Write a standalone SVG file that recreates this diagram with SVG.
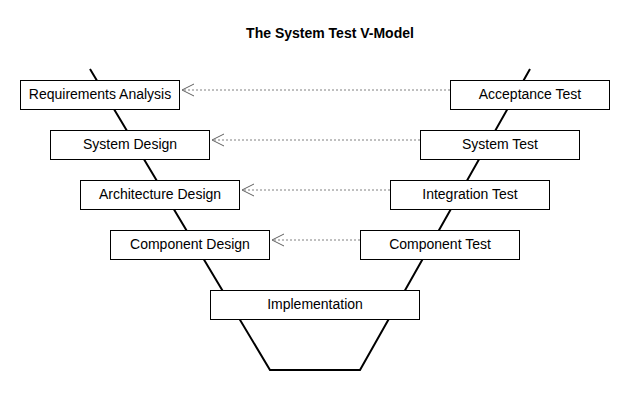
<svg xmlns="http://www.w3.org/2000/svg" width="630" height="410" viewBox="0 0 630 410">
<style>
.box rect{fill:#fff;stroke:#000;stroke-width:1}
.box text{font-family:"Liberation Sans",Arial,sans-serif;font-size:14px;fill:#000;text-anchor:middle}
.v{fill:none;stroke:#000;stroke-width:2}
.dep{stroke:#808080;stroke-width:1;stroke-dasharray:2,2;fill:none}
.head{stroke:#606060;stroke-width:1;fill:none}
</style>
<rect width="630" height="410" fill="#fff"/>
<text x="330" y="38" font-family="'Liberation Sans',Arial,sans-serif" font-size="14" font-weight="bold" text-anchor="middle">The System Test V-Model</text>
<g id="vshape">
<polyline class="v" points="90,69 270,370 360,370 530,69"/>
</g>
<g id="connectors">
<line class="dep" x1="450" y1="90" x2="182" y2="90"/>
<polyline class="head" points="194,84 182,90 194,96"/>
<line class="dep" x1="420" y1="140" x2="212" y2="140"/>
<polyline class="head" points="224,134 212,140 224,146"/>
<line class="dep" x1="390" y1="190" x2="242" y2="190"/>
<polyline class="head" points="254,184 242,190 254,196"/>
<line class="dep" x1="360" y1="240" x2="272" y2="240"/>
<polyline class="head" points="284,234 272,240 284,246"/>
</g>
<g id="requirements-analysis" class="box"><rect x="20.5" y="80.5" width="159" height="29"/><text x="100" y="98.5">Requirements Analysis</text></g>
<g id="system-design" class="box"><rect x="50.5" y="130.5" width="159" height="29"/><text x="130" y="148.5">System Design</text></g>
<g id="architecture-design" class="box"><rect x="80.5" y="180.5" width="159" height="29"/><text x="160" y="198.5">Architecture Design</text></g>
<g id="component-design" class="box"><rect x="110.5" y="230.5" width="159" height="29"/><text x="190" y="248.5">Component Design</text></g>
<g id="implementation" class="box"><rect x="210.5" y="290.5" width="209" height="29"/><text x="315" y="308.5">Implementation</text></g>
<g id="component-test" class="box"><rect x="360.5" y="230.5" width="159" height="29"/><text x="440" y="248.5">Component Test</text></g>
<g id="integration-test" class="box"><rect x="390.5" y="180.5" width="159" height="29"/><text x="470" y="198.5">Integration Test</text></g>
<g id="system-test" class="box"><rect x="420.5" y="130.5" width="159" height="29"/><text x="500" y="148.5">System Test</text></g>
<g id="acceptance-test" class="box"><rect x="450.5" y="80.5" width="159" height="29"/><text x="530" y="98.5">Acceptance Test</text></g>
</svg>
